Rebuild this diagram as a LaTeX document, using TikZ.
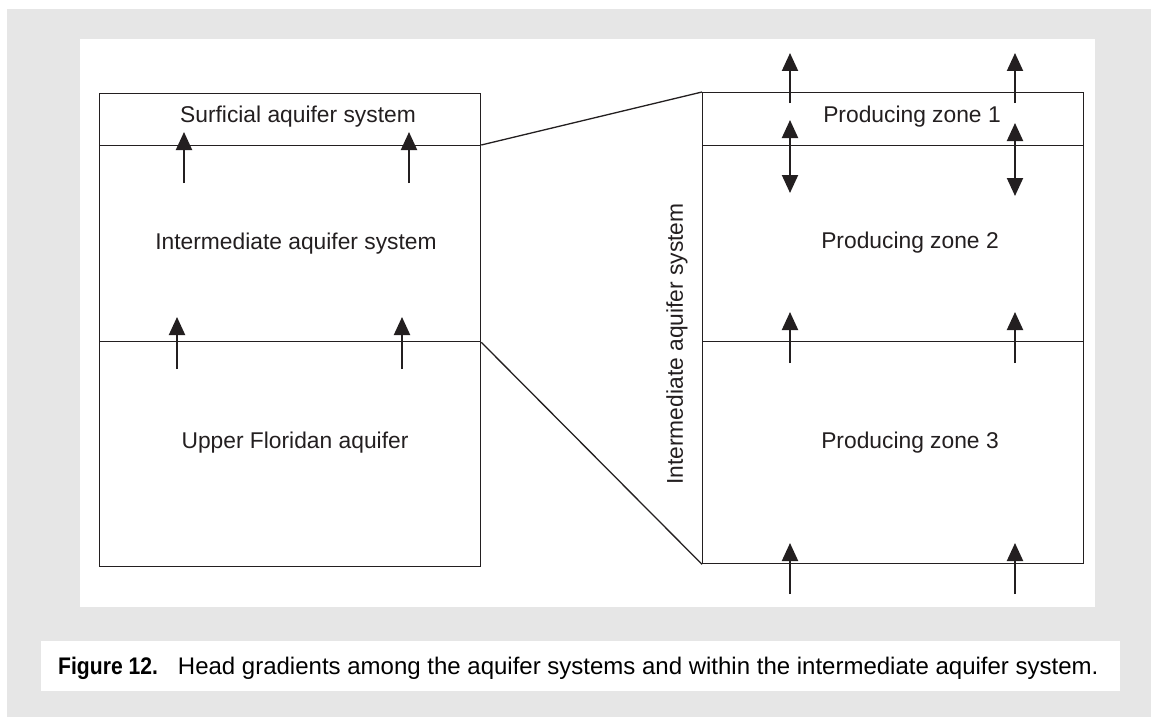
\documentclass[tikz,border=0pt]{standalone}
\usepackage{graphicx}
\usepackage{fontspec}
\setmainfont{Liberation Sans}
\usetikzlibrary{arrows.meta}
\definecolor{ink}{HTML}{231F20}
\definecolor{bggray}{HTML}{E6E6E6}
\tikzset{
  layer/.style={draw=ink, line width=1.3pt, rectangle, inner sep=0pt, anchor=north west},
  lbl/.style={text=ink, font=\fontsize{22.8}{26}\selectfont, inner sep=0pt},
  flow/.style={draw=ink, line width=2pt, -{Triangle[length=18pt,width=16pt]}},
  bflow/.style={draw=ink, line width=2pt, {Triangle[length=18pt,width=16pt]}-{Triangle[length=18pt,width=16pt]}},
  link/.style={draw=ink, line width=1.3pt}
}
\begin{document}
\begin{tikzpicture}[x=1pt,y=-1pt]
\useasboundingbox (0,0) rectangle (1151,717);
\fill[bggray] (7,9) rectangle (1151,717);
\fill[white] (80,39) rectangle (1095,607);
\fill[white] (41,641) rectangle (1120,691);

% left column
\node[layer, minimum width=381pt, minimum height=52pt] (surf) at (99,93) {};
\node[layer, minimum width=381pt, minimum height=196pt] (inter) at (99,145) {};
\node[layer, minimum width=381pt, minimum height=225pt] (ufa) at (99,341) {};
% right column
\node[layer, minimum width=381pt, minimum height=53pt] (pz1) at (702,92) {};
\node[layer, minimum width=381pt, minimum height=196pt] (pz2) at (702,145) {};
\node[layer, minimum width=381pt, minimum height=222pt] (pz3) at (702,341) {};

% labels
\node[lbl] (tsurf) at (298,117) {Surficial aquifer system};
\node[lbl] (tinter) at (296,244) {Intermediate aquifer system};
\node[lbl] (tufa) at (295,443) {Upper Floridan aquifer};
\node[lbl] (tpz1) at (912,117) {Producing zone 1};
\node[lbl] (tpz2) at (910,243) {Producing zone 2};
\node[lbl] (tpz3) at (910,443) {Producing zone 3};
\node[lbl, rotate=90] (tias) at (677,344) {Intermediate aquifer system};

% expansion lines
\draw[link] (inter.north east) -- (pz1.north west);
\draw[link] (inter.south east) -- (pz3.south west);

% arrows left
\coordinate (a1s) at (184,183); \coordinate (a1e) at (184,132);
\coordinate (a2s) at (409,183); \coordinate (a2e) at (409,132);
\coordinate (a3s) at (177,369); \coordinate (a3e) at (177,317);
\coordinate (a4s) at (402,369); \coordinate (a4e) at (402,317);
\draw[flow] (a1s) -- (a1e);
\draw[flow] (a2s) -- (a2e);
\draw[flow] (a3s) -- (a3e);
\draw[flow] (a4s) -- (a4e);

% arrows right
\coordinate (b1s) at (790,103); \coordinate (b1e) at (790,53);
\coordinate (b2s) at (1015,103); \coordinate (b2e) at (1015,53);
\coordinate (c1s) at (790,120); \coordinate (c1e) at (790,193);
\coordinate (c2s) at (1015,123); \coordinate (c2e) at (1015,196);
\coordinate (d1s) at (790,363); \coordinate (d1e) at (790,312);
\coordinate (d2s) at (1015,363); \coordinate (d2e) at (1015,312);
\coordinate (e1s) at (790,594); \coordinate (e1e) at (790,543);
\coordinate (e2s) at (1015,594); \coordinate (e2e) at (1015,543);
\draw[flow] (b1s) -- (b1e);
\draw[flow] (b2s) -- (b2e);
\draw[bflow] (c1s) -- (c1e);
\draw[bflow] (c2s) -- (c2e);
\draw[flow] (d1s) -- (d1e);
\draw[flow] (d2s) -- (d2e);
\draw[flow] (e1s) -- (e1e);
\draw[flow] (e2s) -- (e2e);

% caption
\node[anchor=base west, inner sep=0pt] (cap) at (58,674)
  {\scalebox{0.88}[1]{\fontsize{24}{28}\selectfont\bfseries Figure 12.}\hspace{20pt}{\fontsize{24}{28}\selectfont Head gradients among the aquifer systems and within the intermediate aquifer system.}};
\end{tikzpicture}
\end{document}
